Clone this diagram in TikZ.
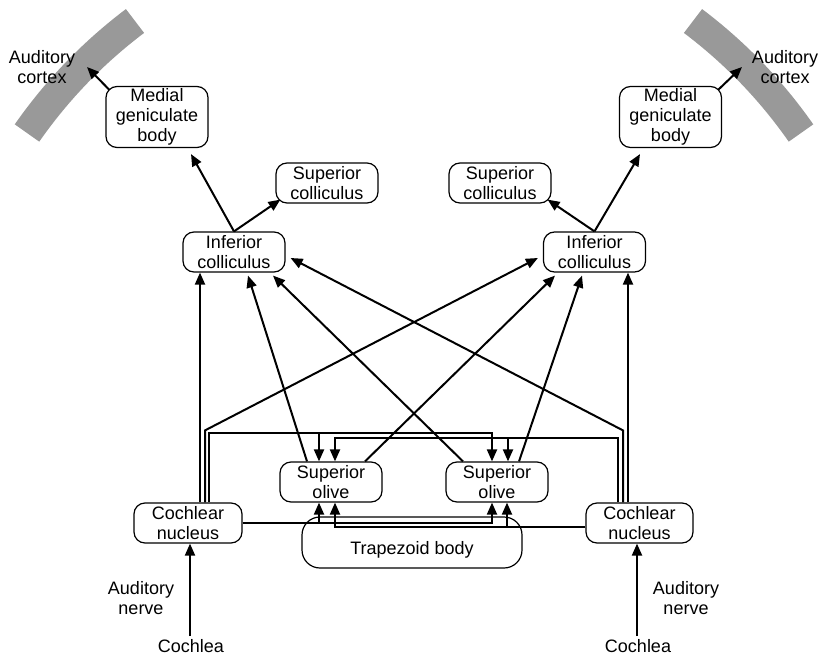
\documentclass[tikz,border=0pt]{standalone}
\usepackage{fontspec}
\setmainfont{Liberation Sans}
\usetikzlibrary{arrows.meta,calc}
\definecolor{cortexgray}{RGB}{153,153,153}
\newcommand{\dfont}{\fontsize{18}{20}\selectfont}
\begin{document}
\begin{tikzpicture}[x=1pt,y=-1pt,
  box/.style={draw, line width=1.2pt, rounded corners=11pt, minimum width=102pt,
    minimum height=40pt, align=center, inner sep=0pt, font=\dfont},
  lbl/.style={align=center, inner sep=0pt, font=\dfont},
  arr/.style={line width=2pt, -{Triangle[length=12pt,width=10pt]}},
  band/.style={line width=30pt, draw=cortexgray, line cap=butt}]
\useasboundingbox (0,0) rectangle (824,655);

% auditory cortex bands
\draw[band] (135,21) .. controls (93,52.7) and (57,90.1) .. (27,133);
\draw[band] (693,21) .. controls (735,52.7) and (771,90.1) .. (801,133);

% nodes
\node[lbl] (lctx) at (42,67) {Auditory\\cortex};
\node[lbl] (rctx) at (785,67) {Auditory\\cortex};
\node[box, minimum height=61pt] (lmgb) at (157,117) {Medial\\geniculate\\body};
\node[box, minimum height=61pt] (rmgb) at (670.5,117) {Medial\\geniculate\\body};
\node[box] (lsc) at (327,183) {Superior\\colliculus};
\node[box] (rsc) at (500,183) {Superior\\colliculus};
\node[box] (lic) at (234,252) {Inferior\\colliculus};
\node[box] (ric) at (594.5,252) {Inferior\\colliculus};
\node[box] (lso) at (331,482) {Superior\\olive};
\node[box] (rso) at (497,482) {Superior\\olive};
\node[box, minimum width=108pt] (lcn) at (188,523) {Cochlear\\nucleus};
\node[box, minimum width=107pt] (rcn) at (639.5,523) {Cochlear\\nucleus};
\node[box, minimum width=220pt, minimum height=51pt, rounded corners=18pt] (tb) at (412,542.5) {};
\node[lbl] (tbl) at (412,550) {Trapezoid body};
\node[lbl] (lnerve) at (141,598) {Auditory\\nerve};
\node[lbl] (rnerve) at (686,598) {Auditory\\nerve};
\node[lbl] (lcoch) at (191,646) {Cochlea};
\node[lbl] (rcoch) at (638,646) {Cochlea};

% MGB -> cortex
\coordinate (lctip) at (87,67);
\coordinate (rctip) at (742,67);
\draw[arr] ($(lmgb.north west)+(4,4)$) -- (lctip);
\draw[arr] ($(rmgb.north east)+(-4,4)$) -- (rctip);

% IC -> MGB, IC -> SC
\draw[arr] (lic.north) -- ($(lmgb.south)+(34,6)$);
\draw[arr] (ric.north) -- ($(rmgb.south)+(-30.5,6)$);
\draw[arr] (lic.north) -- ($(lsc.south west)+(5,-4)$);
\draw[arr] (ric.north) -- ($(rsc.south east)+(-4,-4)$);

% into left IC
\draw[arr] ($(lcn.north)+(12,0)$) -- ($(lic.south)+(-34,0)$);
\draw[arr] ($(lso.north)+(-24,0)$) -- ($(lic.south)+(14,3)$);
\draw[arr] ($(rso.north)+(-34,0)$) -- ($(lic.south)+(39,3)$);
\draw[arr] ($(rcn.north)+(-16.5,0)$) -- ++(0,-72) -- ($(lic.east)+(5,6)$);

% into right IC
\draw[arr] ($(rcn.north)+(-11.5,0)$) -- ($(ric.south)+(33.5,0)$);
\draw[arr] ($(rso.north)+(22,0)$) -- ($(ric.south)+(-12.5,3)$);
\draw[arr] ($(lso.north)+(34,0)$) -- ($(ric.south)+(-39.5,3)$);
\draw[arr] ($(lcn.north)+(17,0)$) -- ++(0,-72) -- ($(ric.west)+(-5,6)$);

% upper bus to superior olives
\draw[arr] ($(lcn.north)+(21,0)$) -- ++(0,-69) -| ($(rso.north)+(-5,0)$);
\draw[arr] ($(lso.north)+(-12,-28)$) -- ($(lso.north)+(-12,0)$);
\draw[arr] ($(rcn.north)+(-21.5,0)$) -- ++(0,-64) -| ($(lso.north)+(4,0)$);
\draw[arr] ($(rso.north)+(11,-23)$) -- ($(rso.north)+(11,0)$);

% lower bus through trapezoid body
\draw[arr] (lcn.east) -| ($(rso.south)+(-5,0)$);
\draw[arr] ($(lso.south)+(-12,21)$) -- ($(lso.south)+(-12,0)$);
\draw[arr] ($(rcn.west)+(0,4)$) -| ($(lso.south)+(4,0)$);
\draw[arr] ($(rso.south)+(10,25)$) -- ($(rso.south)+(10,0)$);

% auditory nerves
\draw[arr] ($(lcoch.north)+(-1,-3)$) -- ($(lcn.south)+(2,0)$);
\draw[arr] ($(rcoch.north)+(-1,-3)$) -- ($(rcn.south)+(-2.5,0)$);
\end{tikzpicture}
\end{document}
